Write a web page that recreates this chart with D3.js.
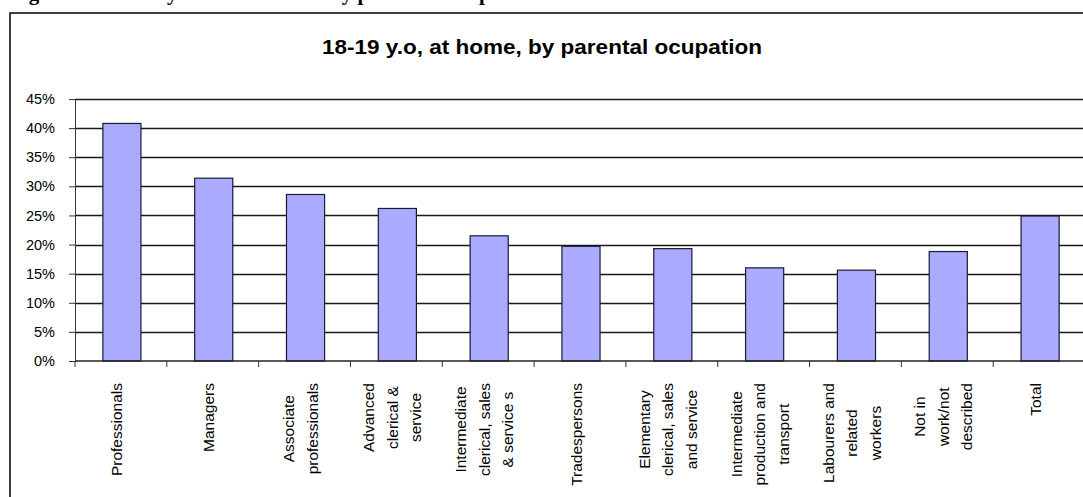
<!DOCTYPE html>
<html>
<head>
<meta charset="utf-8">
<script src="https://cdn.jsdelivr.net/npm/d3@7"></script>
<style>
  body { margin: 0; background: #fff; }
  svg { display: block; }
</style>
</head>
<body>
<div id="chart"></div>
<script>
// chart data
var categories = [
    ["Professionals"],
    ["Managers"],
    ["Associate", "professionals"],
    ["Advanced", "clerical &", "service"],
    ["Intermediate", "clerical, sales", "& service s"],
    ["Tradespersons"],
    ["Elementary", "clerical, sales", "and service"],
    ["Intermediate", "production and", "transport"],
    ["Labourers and", "related", "workers"],
    ["Not in", "work/not", "described"],
    ["Total"]
];
var values = [0.408, 0.314, 0.286, 0.262, 0.215, 0.197, 0.193, 0.160, 0.156, 0.188, 0.249];
var yTicks = [0, 0.05, 0.10, 0.15, 0.20, 0.25, 0.30, 0.35, 0.40, 0.45];
var chartTitle = "18-19 y.o, at home, by parental ocupation";
var pageHeading = "Figure 5.3: 18-19 year olds at home by parental occupation";

var svgWidth = 1083;
var svgHeight = 497;

var svg = d3.select("#chart")
    .append("svg")
    .attr("width", svgWidth)
    .attr("height", svgHeight);

// heading of the page, cut off by the top edge (only descenders show)
svg.append("text")
    .attr("x", 10)
    .attr("y", -0.5)
    .attr("font-family", "'Liberation Serif', 'Times New Roman', serif")
    .attr("font-weight", "bold")
    .attr("font-size", 21)
    .text(pageHeading);

// chart frame
svg.append("rect")
    .attr("x", 10)
    .attr("y", 13)
    .attr("width", 1090)
    .attr("height", 500)
    .attr("fill", "#fff")
    .attr("stroke", "#000")
    .attr("stroke-width", 1.5);

svg.append("text")
    .attr("x", 542)
    .attr("y", 54)
    .attr("text-anchor", "middle")
    .attr("font-family", "Arial, 'Liberation Sans', sans-serif")
    .attr("font-weight", "bold")
    .attr("font-size", 20)
    .attr("textLength", 440)
    .attr("lengthAdjust", "spacingAndGlyphs")
    .text(chartTitle);

var x0 = 75;
var xScale = d3.scaleBand()
    .domain(d3.range(categories.length))
    .range([76, 1086])
    .paddingInner(0.585)
    .paddingOuter(0.2925);

var yScale = d3.scaleLinear()
    .domain([0, 0.45])
    .range([361, 99]);

var chartGroup = svg.append("g");

// gridlines
chartGroup.selectAll(".grid")
    .data(yTicks.slice(1))
    .enter()
    .append("line")
    .attr("x1", x0)
    .attr("x2", 1100)
    .attr("y1", d => Math.round(yScale(d)) + 0.5)
    .attr("y2", d => Math.round(yScale(d)) + 0.5)
    .attr("stroke", "#1a1a1a")
    .attr("stroke-width", 1.3);

// y axis
var leftAxis = d3.axisLeft(yScale)
    .tickValues(yTicks)
    .tickSize(6)
    .tickPadding(14)
    .tickFormat(d3.format(".0%"));

var yAxisG = chartGroup.append("g")
    .attr("transform", `translate(${x0}, 0)`)
    .call(leftAxis);
yAxisG.select(".domain").attr("stroke", "#333");
yAxisG.selectAll(".tick line").attr("stroke", "#333");
yAxisG.selectAll("text")
    .attr("font-family", "Arial, 'Liberation Sans', sans-serif")
    .attr("font-size", 14.5)
    .attr("fill", "#000");

// bars
chartGroup.selectAll(".bar")
    .data(values)
    .enter()
    .append("rect")
    .attr("x", (d, i) => xScale(i))
    .attr("y", d => yScale(d))
    .attr("width", xScale.bandwidth())
    .attr("height", d => yScale(0) - yScale(d))
    .attr("fill", "#aaaaff")
    .attr("stroke", "#1a1a33")
    .attr("stroke-width", 1.2);

// x axis line and ticks at category boundaries
var step = xScale.step();
var xBase = yScale(0);
chartGroup.append("line")
    .attr("x1", x0)
    .attr("x2", 1100)
    .attr("y1", xBase)
    .attr("y2", xBase)
    .attr("stroke", "#222")
    .attr("stroke-width", 1.3);

chartGroup.selectAll(".xtick")
    .data(d3.range(categories.length + 1))
    .enter()
    .append("line")
    .attr("x1", i => x0 + i * step)
    .attr("x2", i => x0 + i * step)
    .attr("y1", xBase)
    .attr("y2", xBase + 6)
    .attr("stroke", "#333");

// rotated category labels, lines centred on the longest line
var lineGap = 23.5;
var labelTop = 383;
categories.forEach(function (lines, i) {
    var cx = xScale(i) + xScale.bandwidth() / 2 - 5;
    var g = chartGroup.append("g");
    var texts = lines.map(function (t, j) {
        return g.append("text")
            .attr("font-family", "Arial, 'Liberation Sans', sans-serif")
            .attr("font-size", 15.5)
            .attr("text-anchor", "middle")
            .attr("dy", "0.36em")
            .text(t);
    });
    var maxLen = d3.max(texts, t => t.node().getComputedTextLength());
    var cy = labelTop + maxLen / 2;
    texts.forEach(function (t, j) {
        var lx = cx + (j - (lines.length - 1) / 2) * lineGap;
        t.attr("x", lx)
            .attr("y", cy)
            .attr("transform", `rotate(-90, ${lx}, ${cy})`);
    });
});
</script>
</body>
</html>
